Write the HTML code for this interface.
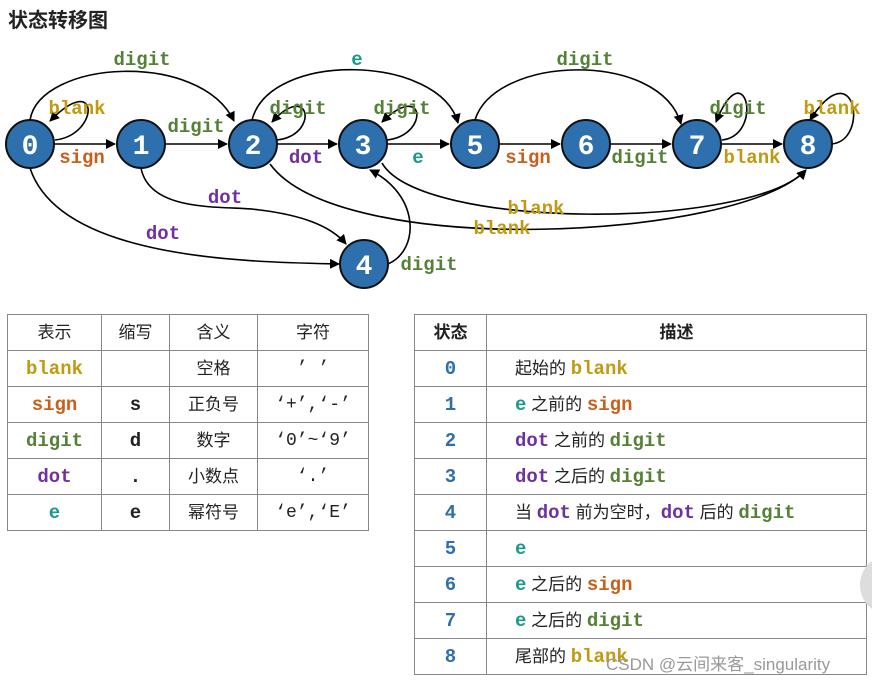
<!DOCTYPE html>
<html><head><meta charset="utf-8"><style>
body{margin:0;background:#fff;width:872px;height:681px;overflow:hidden;position:relative;font-family:"Liberation Sans","Noto Sans CJK SC",sans-serif}
.t{position:absolute;left:8px;top:4px;font-size:20px;font-weight:bold;color:#222}
table{position:absolute;border-collapse:collapse;font-size:17px;color:#222}
td{border:1.5px solid #888;text-align:center;height:35px;padding:0;vertical-align:middle;line-height:20px}
.m{font-family:"Liberation Mono","DejaVu Sans Mono",monospace;font-weight:bold;font-size:19px}
.b{color:#c09a10}.s{color:#c8601c}.d{color:#538135}.o{color:#7030a0}.e{color:#1a9a8a}.n{color:#2e6fad}
.r td:nth-child(2){text-align:left;padding-left:28px}
.c{font-family:"Liberation Mono",monospace;font-size:18px}
</style></head><body>
<div class="t">状态转移图</div>
<svg width="872" height="300" style="position:absolute;left:0;top:0">
<defs><marker id="a" markerWidth="10" markerHeight="10" refX="9" refY="5" orient="auto" markerUnits="userSpaceOnUse"><path d="M0,0L10,5L0,10z" fill="#000"/></marker></defs>
<g fill="none" stroke="#000" stroke-width="1.6" marker-end="url(#a)">
<path d="M54,144L115,144"/><path d="M165,144L227,144"/><path d="M277,144L337,144"/><path d="M387,144L449,144"/>
<path d="M499,144L560,144"/><path d="M610,144L671,144"/><path d="M721,144L782,144"/>
<path d="M30,120C40,60,200,50,234,121"/>
<path d="M252,120C270,50,440,55,458,123"/>
<path d="M475,120C495,55,660,50,681,124"/>
<path d="M55,140C100,135,100,70,50,121"/>
<path d="M277,140C320,135,310,80,272,122"/>
<path d="M387,140C430,135,425,80,382,122"/>
<path d="M722,140C765,135,745,50,716,122"/>
<path d="M832,144C870,140,855,50,810,120"/>
<path d="M30,168C60,260,250,262,339,264"/>
<path d="M141,168C150,215,230,205,260,210C300,215,330,225,346,244"/>
<path d="M388,264C420,250,420,195,370,170"/>
<path d="M382,163C420,230,750,230,806,170"/>
<path d="M270,164C340,260,740,240,806,170"/>
</g>
<g fill="#2e6fad" stroke="#111" stroke-width="2">
<circle cx="30" cy="144" r="24"/><circle cx="141" cy="144" r="24"/><circle cx="253" cy="144" r="24"/><circle cx="363" cy="144" r="24"/><circle cx="364" cy="264" r="24"/><circle cx="475" cy="144" r="24"/><circle cx="586" cy="144" r="24"/><circle cx="697" cy="144" r="24"/><circle cx="808" cy="144" r="24"/>
</g>
<g fill="#fff" font-family="Liberation Mono,DejaVu Sans Mono,monospace" font-weight="bold" font-size="28" text-anchor="middle">
<text x="30" y="154">0</text><text x="141" y="154">1</text><text x="253" y="154">2</text><text x="363" y="154">3</text><text x="364" y="274">4</text><text x="475" y="154">5</text><text x="586" y="154">6</text><text x="697" y="154">7</text><text x="808" y="154">8</text>
</g>
<g font-family="Liberation Mono,DejaVu Sans Mono,monospace" font-weight="bold" font-size="19" text-anchor="middle">
<text x="142" y="65" fill="#538135">digit</text><text x="77" y="114" fill="#c09a10">blank</text><text x="82" y="163" fill="#c8601c">sign</text>
<text x="196" y="132" fill="#538135">digit</text><text x="357" y="65" fill="#1a9a8a">e</text><text x="298" y="114" fill="#538135">digit</text>
<text x="306" y="163" fill="#7030a0">dot</text><text x="402" y="114" fill="#538135">digit</text><text x="418" y="163" fill="#1a9a8a">e</text>
<text x="585" y="65" fill="#538135">digit</text><text x="528" y="163" fill="#c8601c">sign</text><text x="640" y="163" fill="#538135">digit</text>
<text x="738" y="114" fill="#538135">digit</text><text x="752" y="163" fill="#c09a10">blank</text><text x="832" y="114" fill="#c09a10">blank</text>
<text x="225" y="203" fill="#7030a0">dot</text><text x="163" y="239" fill="#7030a0">dot</text><text x="429" y="270" fill="#538135">digit</text>
<text x="536" y="214" fill="#c09a10">blank</text><text x="502" y="234" fill="#c09a10">blank</text>
</g>
</svg>
<table style="left:7px;top:314px;width:362px">
<tr><td style="width:93px">表示</td><td style="width:67px">缩写</td><td style="width:87px">含义</td><td>字符</td></tr>
<tr><td class="m b">blank</td><td></td><td>空格</td><td class="c">’ ’</td></tr>
<tr><td class="m s">sign</td><td class="m">s</td><td>正负号</td><td class="c">‘+’,‘-’</td></tr>
<tr><td class="m d">digit</td><td class="m">d</td><td>数字</td><td class="c">‘0’~‘9’</td></tr>
<tr><td class="m o">dot</td><td class="m">.</td><td>小数点</td><td class="c">‘.’</td></tr>
<tr><td class="m e">e</td><td class="m">e</td><td>幂符号</td><td class="c">‘e’,‘E’</td></tr>
</table>
<table class="r" style="left:414px;top:314px;width:453px">
<tr><td style="width:71px;font-weight:bold">状态</td><td style="text-align:center;padding:0;font-weight:bold">描述</td></tr>
<tr><td class="m n">0</td><td>起始的 <span class="m b">blank</span></td></tr>
<tr><td class="m n">1</td><td><span class="m e">e</span> 之前的 <span class="m s">sign</span></td></tr>
<tr><td class="m n">2</td><td><span class="m o">dot</span> 之前的 <span class="m d">digit</span></td></tr>
<tr><td class="m n">3</td><td><span class="m o">dot</span> 之后的 <span class="m d">digit</span></td></tr>
<tr><td class="m n">4</td><td>当 <span class="m o">dot</span> 前为空时，<span class="m o">dot</span> 后的 <span class="m d">digit</span></td></tr>
<tr><td class="m n">5</td><td><span class="m e">e</span></td></tr>
<tr><td class="m n">6</td><td><span class="m e">e</span> 之后的 <span class="m s">sign</span></td></tr>
<tr><td class="m n">7</td><td><span class="m e">e</span> 之后的 <span class="m d">digit</span></td></tr>
<tr><td class="m n">8</td><td>尾部的 <span class="m b">blank</span></td></tr>
</table>
<div style="position:absolute;left:860px;top:555px;width:60px;height:60px;border-radius:50%;background:#ddd"></div>
<div style="position:absolute;left:606px;top:650px;font-size:17px;color:#999">CSDN @云间来客_singularity</div>
</body></html>
